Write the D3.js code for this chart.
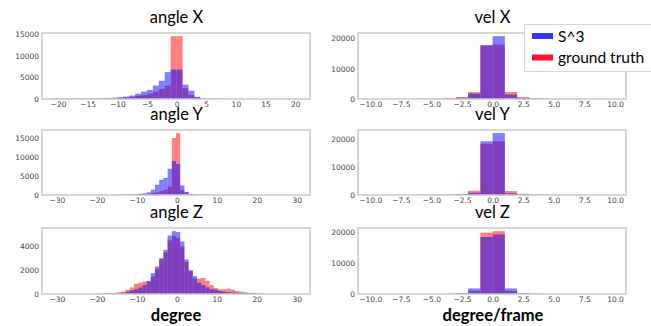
<!DOCTYPE html>
<html>
<head>
<meta charset="utf-8">
<script src="https://cdn.jsdelivr.net/npm/d3@7"></script>
<style>
  html, body { margin: 0; padding: 0; background: #fff; }
  svg { display: block; }
  .tick text { font-family: "DejaVu Sans", sans-serif; font-size: 7.5px; fill: #444; }
  .title { font-family: Lato, "Open Sans", sans-serif; font-size: 16.5px; fill: #000; }
  .xlabel { font-family: Lato, "Open Sans", sans-serif; font-size: 16.5px; font-weight: bold; fill: #000; }
  .legend text { font-family: Lato, "Open Sans", sans-serif; font-size: 15.5px; fill: #000; }
</style>
</head>
<body>
<div id="chart"></div>
<script>
(function () {
  'use strict';

  // ---- data: histogram counts ----
  // angle X: bins of width 1, first left edge -21
  const angleXStart = -21, angleXWidth = 1;
  const angleXS3 = [0, 10, 20, 20, 30, 40, 60, 100, 150, 200, 300, 400, 550, 800,
    1200, 1700, 2100, 3100, 4200, 6200, 6800, 6800, 3300, 1900, 500, 150, 40, 10,
    0, 0, 0, 0, 0, 0, 0, 0, 0, 0, 0, 0, 0, 0];
  const angleXGt = [150, 30, 80, 90, 100, 100, 90, 80, 100, 150, 200, 300, 400, 550,
    700, 900, 1200, 1700, 2300, 3100, 14500, 14500, 2500, 900, 400, 150, 100, 80,
    0, 0, 0, 0, 0, 0, 0, 0, 0, 0, 0, 0, 0, 0];

  // angle Y: bins of width 1.05, first left edge -17
  const angleYStart = -17, angleYWidth = 1.05;
  const angleYS3 = [0, 10, 20, 30, 50, 100, 200, 300, 450, 700, 1400, 2700, 4000,
    4500, 6900, 8900, 8200, 2500, 800, 200, 100, 50, 20, 10];
  const angleYGt = [30, 50, 60, 80, 100, 120, 150, 200, 250, 350, 500, 700, 1000,
    1400, 2200, 15000, 16300, 1300, 700, 300, 200, 120, 80, 50];

  // angle Z: bins of width 1.05, first left edge -21.2
  const angleZStart = -21.2, angleZWidth = 1.05;
  const angleZS3 = [10, 10, 20, 30, 40, 60, 80, 120, 200, 300, 400, 550, 750, 1100,
    1750, 2300, 3000, 3700, 4900, 5270, 5200, 4400, 2900, 2000, 1500, 950, 750, 550,
    400, 350, 250, 200, 150, 120, 100, 80, 60, 50, 40, 30, 20];
  const angleZGt = [20, 30, 40, 50, 70, 100, 150, 200, 350, 550, 850, 950, 1050, 1050,
    1450, 2100, 2900, 3500, 4500, 4850, 4700, 4000, 2700, 1900, 1300, 1300, 1350, 1100,
    750, 500, 400, 400, 450, 350, 250, 200, 150, 100, 70, 50, 30];

  // velocities: bins of width 1, first left edge -10
  const velStart = -10, velWidth = 1;
  const velXS3 = [0, 0, 0, 0, 0, 20, 200, 500, 1800, 17800, 20800, 1500, 400, 100, 20, 0, 0, 0, 0, 0];
  const velXGt = [0, 0, 0, 0, 60, 100, 200, 550, 2300, 17700, 18000, 2300, 600, 250, 80, 0, 0, 0, 0, 0];
  const velYS3 = [0, 0, 0, 0, 0, 10, 50, 200, 800, 19100, 22000, 600, 200, 50, 10, 0, 0, 0, 0, 0];
  const velYGt = [0, 0, 0, 0, 50, 80, 150, 350, 1500, 18200, 19100, 1400, 400, 150, 80, 50, 0, 0, 0, 0];
  const velZS3 = [0, 0, 0, 0, 0, 0, 100, 350, 1800, 18500, 19300, 1800, 350, 100, 20, 0, 0, 0, 0, 0];
  const velZGt = [0, 0, 0, 0, 0, 0, 30, 200, 1000, 19900, 20400, 1000, 200, 30, 0, 0, 0, 0, 0, 0];

  // ---- ticks ----
  const angleXTicks = [-20, -15, -10, -5, 0, 5, 10, 15, 20];
  const angleYZTicks = [-30, -20, -10, 0, 10, 20, 30];
  const velTicks = [-10, -7.5, -5, -2.5, 0, 2.5, 5, 7.5, 10];
  const angleXYCountTicks = [0, 5000, 10000, 15000];
  const angleZCountTicks = [0, 2000, 4000];
  const velCountTicks = [0, 10000, 20000];

  const legendLabels = ['S^3', 'ground truth'];

  const WIDTH = 651, HEIGHT = 326;
  const COLORS = {
    s3: 'rgba(0, 0, 255, 0.5)',
    gt: 'rgba(255, 0, 0, 0.5)',
    frame: '#c9c9c9',
    legendS3: '#3434ff',
    legendGt: '#ff1030'
  };

  const LEFT_COL = [42, 310];
  const RIGHT_COL = [358, 626];
  const ROWS = [[33, 99], [130, 195], [228, 294]];

  const panels = [
    { title: 'angle X', col: LEFT_COL, row: ROWS[0], domain: [-22.7, 22.5], start: angleXStart, width: angleXWidth,
      s3: angleXS3, gt: angleXGt, xTicks: angleXTicks, yTicks: angleXYCountTicks, fmt: d3.format('d') },
    { title: 'angle Y', col: LEFT_COL, row: ROWS[1], domain: [-33.7, 33.3], start: angleYStart, width: angleYWidth,
      s3: angleYS3, gt: angleYGt, xTicks: angleYZTicks, yTicks: angleXYCountTicks, fmt: d3.format('d') },
    { title: 'angle Z', col: LEFT_COL, row: ROWS[2], domain: [-33.7, 33.3], start: angleZStart, width: angleZWidth,
      s3: angleZS3, gt: angleZGt, xTicks: angleYZTicks, yTicks: angleZCountTicks, fmt: d3.format('d') },
    { title: 'vel X', col: RIGHT_COL, row: ROWS[0], domain: [-11.0, 10.9], start: velStart, width: velWidth,
      s3: velXS3, gt: velXGt, xTicks: velTicks, yTicks: velCountTicks, fmt: d3.format('.1f') },
    { title: 'vel Y', col: RIGHT_COL, row: ROWS[1], domain: [-11.0, 10.9], start: velStart, width: velWidth,
      s3: velYS3, gt: velYGt, xTicks: velTicks, yTicks: velCountTicks, fmt: d3.format('.1f') },
    { title: 'vel Z', col: RIGHT_COL, row: ROWS[2], domain: [-11.0, 10.9], start: velStart, width: velWidth,
      s3: velZS3, gt: velZGt, xTicks: velTicks, yTicks: velCountTicks, fmt: d3.format('.1f') }
  ];

  const svg = d3.select('#chart').append('svg')
    .attr('width', WIDTH)
    .attr('height', HEIGHT);

  function drawBars(g, counts, p, x, y, color) {
    const bins = counts.map((c, i) => ({
      x0: p.start + i * p.width,
      x1: p.start + (i + 1) * p.width,
      count: c
    })).filter(b => b.count > 0);

    g.append('g').selectAll('rect')
      .data(bins)
      .join('rect')
      .attr('x', d => x(d.x0))
      .attr('width', d => x(d.x1) - x(d.x0))
      .attr('y', d => y(d.count))
      .attr('height', d => y(0) - y(d.count))
      .attr('fill', color);
  }

  panels.forEach((p) => {
    const [x0, x1] = p.col;
    const [y0, y1] = p.row;
    const maxCount = d3.max(p.s3.concat(p.gt));

    const x = d3.scaleLinear().domain(p.domain).range([x0, x1]);
    const y = d3.scaleLinear().domain([0, maxCount * 1.05]).range([y1, y0]);

    const g = svg.append('g');

    // ground truth first, S^3 on top (overlap turns purple)
    drawBars(g, p.gt, p, x, y, COLORS.gt);
    drawBars(g, p.s3, p, x, y, COLORS.s3);

    // frame
    g.append('rect')
      .attr('x', x0)
      .attr('y', y0)
      .attr('width', x1 - x0)
      .attr('height', y1 - y0)
      .attr('fill', 'none')
      .attr('stroke', COLORS.frame)
      .attr('stroke-width', 1.5);

    const xAxis = g.append('g')
      .attr('transform', `translate(0,${y1})`)
      .call(d3.axisBottom(x).tickValues(p.xTicks).tickSize(0).tickPadding(3).tickFormat(p.fmt));
    xAxis.select('.domain').remove();

    const yAxis = g.append('g')
      .attr('transform', `translate(${x0},0)`)
      .call(d3.axisLeft(y).tickValues(p.yTicks).tickSize(0).tickPadding(3).tickFormat(d3.format('d')));
    yAxis.select('.domain').remove();

    svg.append('text')
      .attr('class', 'title')
      .attr('x', (x0 + x1) / 2 + 0.5)
      .attr('y', y0 - 10)
      .attr('text-anchor', 'middle')
      .text(p.title);
  });

  // axis labels under each column
  svg.append('text')
    .attr('class', 'xlabel')
    .attr('x', 176)
    .attr('y', 320.5)
    .attr('text-anchor', 'middle')
    .text('degree');

  svg.append('text')
    .attr('class', 'xlabel')
    .attr('x', 493)
    .attr('y', 320.5)
    .attr('text-anchor', 'middle')
    .text('degree/frame');

  // legend
  const legend = svg.append('g').attr('class', 'legend');
  legend.append('rect')
    .attr('x', 524.5)
    .attr('y', 24.5)
    .attr('width', 140)
    .attr('height', 47)
    .attr('fill', '#fff')
    .attr('stroke', '#d6d6d6')
    .attr('stroke-width', 1);

  const legendColors = [COLORS.legendS3, COLORS.legendGt];
  legendLabels.forEach((label, i) => {
    const cy = 36 + i * 21.5;
    legend.append('rect')
      .attr('x', 532)
      .attr('y', cy - 3)
      .attr('width', 21)
      .attr('height', 6)
      .attr('fill', legendColors[i]);
    legend.append('text')
      .attr('x', 558)
      .attr('y', cy + 5.5)
      .text(label);
  });
})();
</script>
</body>
</html>
